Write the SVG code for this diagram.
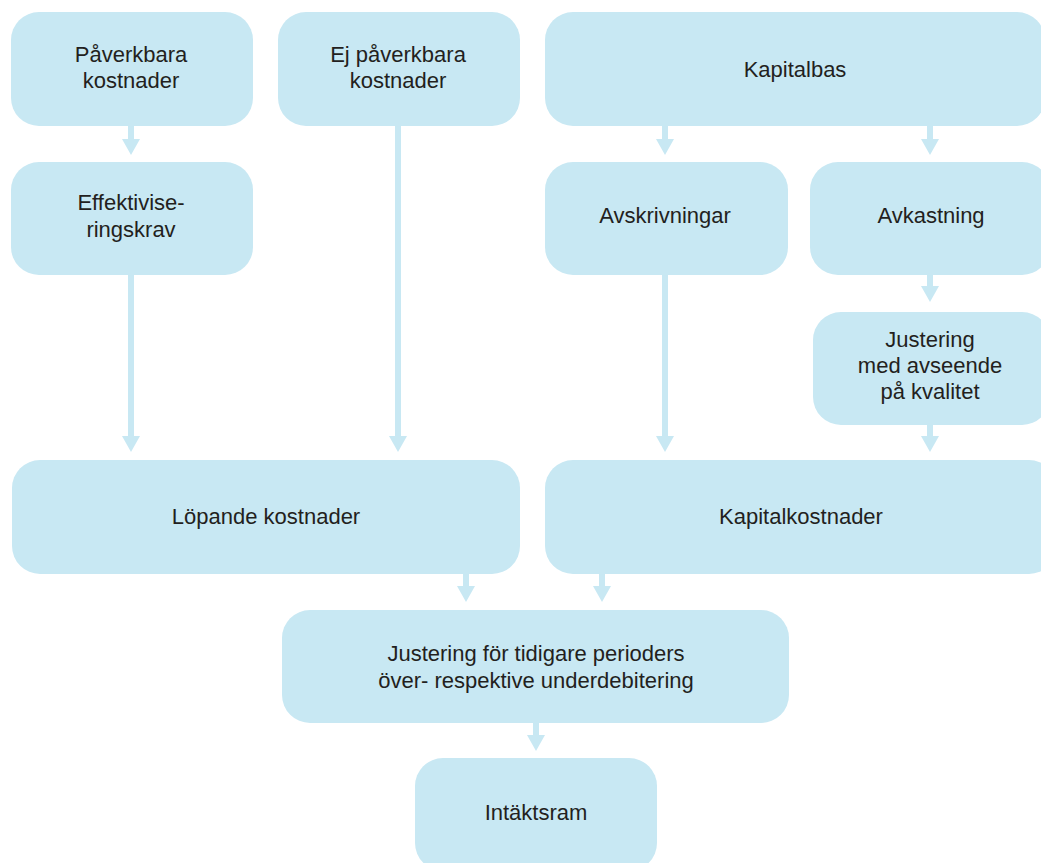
<svg xmlns="http://www.w3.org/2000/svg" width="1041" height="863" viewBox="0 0 1041 863">
<defs>
<style>
.box{fill:#c8e8f3;}
.t{font-family:"Liberation Sans",Arial,sans-serif;font-size:22px;fill:#231f20;text-anchor:middle;}
.c{stroke:#c8e8f3;stroke-width:6;fill:none;marker-end:url(#ah);}
</style>
<marker id="ah" viewBox="0 0 16 18" refX="0" refY="9" markerWidth="16" markerHeight="18" markerUnits="userSpaceOnUse" orient="auto">
<path d="M0,0 L16,9 L0,18 z" fill="#c8e8f3"/>
</marker>
</defs>
<rect width="1041" height="863" fill="#ffffff"/>
<g id="connectors">
<line class="c" x1="131" y1="124" x2="131" y2="139"/>
<line class="c" x1="665" y1="124" x2="665" y2="139"/>
<line class="c" x1="930" y1="124" x2="930" y2="139"/>
<line class="c" x1="131" y1="273" x2="131" y2="436"/>
<line class="c" x1="398" y1="124" x2="398" y2="436"/>
<line class="c" x1="665" y1="273" x2="665" y2="436"/>
<line class="c" x1="930" y1="273" x2="930" y2="286"/>
<line class="c" x1="930" y1="423" x2="930" y2="436"/>
<line class="c" x1="466" y1="572" x2="466" y2="586"/>
<line class="c" x1="602" y1="572" x2="602" y2="586"/>
<line class="c" x1="536" y1="721" x2="536" y2="735"/>
</g>
<g id="n-paverkbara">
<rect class="box" x="11" y="12" width="242" height="114" rx="28"/>
<text class="t" x="131" y="62">Påverkbara</text>
<text class="t" x="131" y="88">kostnader</text>
</g>
<g id="n-ejpaverkbara">
<rect class="box" x="278" y="12" width="242" height="114" rx="28"/>
<text class="t" x="398" y="62">Ej påverkbara</text>
<text class="t" x="398" y="88">kostnader</text>
</g>
<g id="n-kapitalbas">
<rect class="box" x="545" y="12" width="500" height="114" rx="28"/>
<text class="t" x="795" y="77">Kapitalbas</text>
</g>
<g id="n-effektivisering">
<rect class="box" x="11" y="162" width="242" height="113" rx="28"/>
<text class="t" x="131" y="210">Effektivise-</text>
<text class="t" x="131" y="237">ringskrav</text>
</g>
<g id="n-avskrivningar">
<rect class="box" x="545" y="162" width="243" height="113" rx="28"/>
<text class="t" x="665" y="223">Avskrivningar</text>
</g>
<g id="n-avkastning">
<rect class="box" x="810" y="162" width="240" height="113" rx="28"/>
<text class="t" x="931" y="223">Avkastning</text>
</g>
<g id="n-justering-kvalitet">
<rect class="box" x="813" y="312" width="237" height="113" rx="28"/>
<text class="t" x="930" y="347">Justering</text>
<text class="t" x="930" y="373">med avseende</text>
<text class="t" x="930" y="399">på kvalitet</text>
</g>
<g id="n-lopande">
<rect class="box" x="12" y="460" width="508" height="114" rx="28"/>
<text class="t" x="266" y="524">Löpande kostnader</text>
</g>
<g id="n-kapitalkostnader">
<rect class="box" x="545" y="460" width="512" height="114" rx="28"/>
<text class="t" x="801" y="524">Kapitalkostnader</text>
</g>
<g id="n-justering-perioder">
<rect class="box" x="282" y="610" width="507" height="113" rx="28"/>
<text class="t" x="536" y="661">Justering för tidigare perioders</text>
<text class="t" x="536" y="688">över- respektive underdebitering</text>
</g>
<g id="n-intaktsram">
<rect class="box" x="415" y="758" width="242" height="113" rx="28"/>
<text class="t" x="536" y="820">Intäktsram</text>
</g>
</svg>
